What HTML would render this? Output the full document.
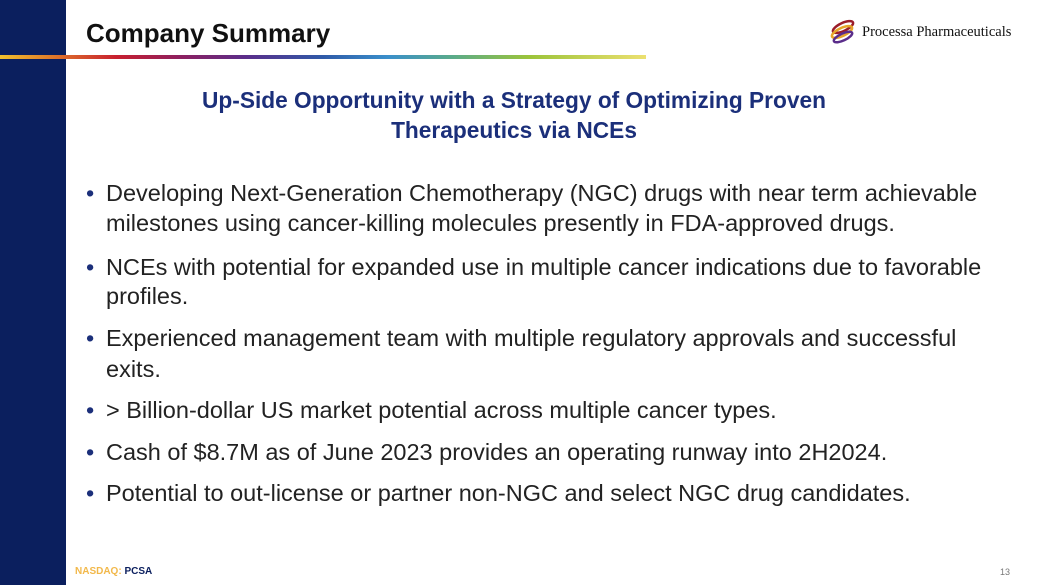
<!DOCTYPE html>
<html><head><meta charset="utf-8"><style>
body{margin:0;width:1040px;height:585px;position:relative;overflow:hidden;background:#fff;font-family:"Liberation Sans",sans-serif}
.side{position:absolute;left:0;top:0;width:66px;height:585px;background:#0b1f5e}
.bar{position:absolute;left:0;top:55px;width:646px;height:4px;background:linear-gradient(90deg,#f2c12e 0%,#e07a2a 8%,#c8202f 18%,#8d2060 28%,#5b2d8a 38%,#2f5aa8 50%,#3a8fcb 60%,#5aab8a 70%,#9cc43a 82%,#ece070 100%)}
.title{position:absolute;left:86px;top:18px;font-size:26px;font-weight:bold;color:#111}
.logo{position:absolute;left:862px;top:24px;font-family:"Liberation Serif",serif;font-size:14.5px;color:#111}
.sub{position:absolute;left:100px;width:828px;text-align:center;font-size:22.7px;font-weight:bold;color:#1b2f7a}
.l{position:absolute;left:106px;font-size:23.5px;color:#222;white-space:nowrap}
.b{position:absolute;left:86px;font-size:23.5px;color:#1b2f7a}
.foot{position:absolute;left:75px;top:566px;font-size:10px;font-weight:bold}
.pg{position:absolute;left:1000px;top:567px;font-size:9px;color:#777}
</style></head><body>
<div class="side"></div>
<div class="bar"></div>
<div class="title">Company Summary</div>
<svg style="position:absolute;left:828px;top:19px" width="30" height="26" viewBox="0 0 30 26">
<ellipse cx="15" cy="8" rx="11" ry="4" fill="none" stroke="#9b1d2a" stroke-width="2.5" transform="rotate(-25 15 8)"/>
<ellipse cx="14" cy="13" rx="11" ry="4" fill="none" stroke="#e6a52a" stroke-width="2.5" transform="rotate(-25 14 13)"/>
<ellipse cx="15" cy="18" rx="10" ry="3.5" fill="none" stroke="#5a2d8a" stroke-width="2.5" transform="rotate(-25 15 18)"/>
</svg>
<div class="logo">Processa Pharmaceuticals</div>
<div class="sub" style="top:87px">Up-Side Opportunity with a Strategy of Optimizing Proven</div>
<div class="sub" style="top:117px">Therapeutics via NCEs</div>
<div class="b" style="top:180px">•</div><div class="l" style="top:180px">Developing Next-Generation Chemotherapy (NGC) drugs with near term achievable</div>
<div class="l" style="top:210px">milestones using cancer-killing molecules presently in FDA-approved drugs.</div>
<div class="b" style="top:254px">•</div><div class="l" style="top:254px">NCEs with potential for expanded use in multiple cancer indications due to favorable</div>
<div class="l" style="top:283px">profiles.</div>
<div class="b" style="top:325px">•</div><div class="l" style="top:325px">Experienced management team with multiple regulatory approvals and successful</div>
<div class="l" style="top:356px">exits.</div>
<div class="b" style="top:397px">•</div><div class="l" style="top:397px">&gt; Billion-dollar US market potential across multiple cancer types.</div>
<div class="b" style="top:439px">•</div><div class="l" style="top:439px">Cash of $8.7M as of June 2023 provides an operating runway into 2H2024.</div>
<div class="b" style="top:480px">•</div><div class="l" style="top:480px">Potential to out-license or partner non-NGC and select NGC drug candidates.</div>
<div class="foot"><span style="color:#f2b84a">NASDAQ:</span> <span style="color:#0b1f5e">PCSA</span></div>
<div class="pg">13</div>
</body></html>
